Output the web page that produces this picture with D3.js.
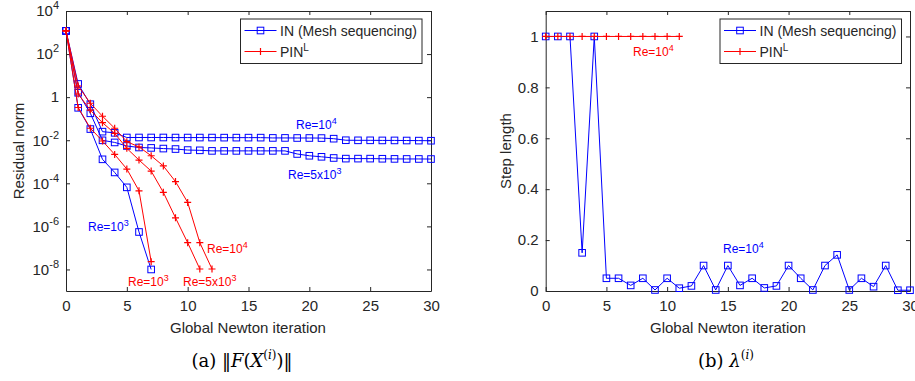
<!DOCTYPE html>
<html>
<head>
<meta charset="utf-8">
<script src="https://cdn.jsdelivr.net/npm/d3@7"></script>
<style>
  body { margin: 0; background: #fff; }
  text { font-family: "Liberation Sans", Arial, sans-serif; }
</style>
</head>
<body>
<div id="chart"></div>
<script>
// residual norm, IN (mesh sequencing)
var inRe1e3 = [1.2e3, 0.32, 0.033, 1.3e-3, 3.2e-4, 6.5e-5, 5.5e-7, 1.0e-8];
var inRe5e3 = [1.2e3, 1.6, 0.178, 0.0099, 0.0079, 0.0054, 0.0046, 0.0044, 0.0041, 0.0039, 0.0035, 0.0034,
  0.0032, 0.0032, 0.0032, 0.0032, 0.0032, 0.0032, 0.0032, 0.0023, 0.0019, 0.0017, 0.0015,
  0.0014, 0.0014, 0.0014, 0.00138, 0.00136, 0.00135, 0.00135, 0.00134];
var inRe1e4 = [1.2e3, 4.1, 0.47, 0.025, 0.022, 0.0134, 0.0134, 0.0134, 0.0134, 0.0133, 0.0133, 0.0133,
  0.0133, 0.0132, 0.0132, 0.0132, 0.0132, 0.0128, 0.0128, 0.0127, 0.0127, 0.0126, 0.0118,
  0.0100, 0.0099, 0.0099, 0.0098, 0.0098, 0.0097, 0.0096, 0.0095];
// residual norm, PIN^L
var pinRe1e3 = [1.2e3, 0.33, 0.036, 0.0092, 0.0022, 4.6e-4, 4.5e-5, 2.3e-8];
var pinRe5e3 = [1.2e3, 1.4, 0.25, 0.065, 0.021, 0.0042, 0.0012, 3.7e-4, 3.8e-5, 2.5e-6, 1.75e-7, 1.05e-8];
var pinRe1e4 = [1.2e3, 3.3, 0.52, 0.13, 0.036, 0.0086, 0.0049, 0.0019, 6.4e-4, 1.2e-4, 1.3e-5, 1.75e-7, 1.05e-8];
// step length, Re=10^4
var stepIN = [1, 1, 1, 0.15, 1, 0.05, 0.05, 0.022, 0.05, 0.004, 0.05, 0.011, 0.02, 0.1, 0.004, 0.1,
  0.022, 0.05, 0.012, 0.02, 0.1, 0.05, 0.004, 0.1, 0.142, 0.004, 0.05, 0.017, 0.1, 0.003, 0.003];
var stepPIN = [1, 1, 1, 1, 1, 1, 1, 1, 1, 1, 1, 1];

var xTicks = [0, 5, 10, 15, 20, 25, 30];
var logTicks = [1e-8, 1e-6, 1e-4, 1e-2, 1, 1e2, 1e4];
var stepTicks = [0, 0.2, 0.4, 0.6, 0.8, 1];
var legendNames = ["IN (Mesh sequencing)", "PIN"];

var blue = "#0000ff", red = "#ff0000", ink = "#262626";

var svg = d3.select("#chart").append("svg")
    .attr("width", 915)
    .attr("height", 381);

var xL = d3.scaleLinear().domain([0, 30]).range([66, 431]);
var yL = d3.scaleLog().domain([1e-9, 1e4]).range([291, 11]);
var xR = d3.scaleLinear().domain([0, 30]).range([545.7, 910]);
var yR = d3.scaleLinear().domain([0, 1.1]).range([291, 11]);

function frame(x, y, yTicks, yFormat) {
    var x0 = x.range()[0], x1 = x.range()[1], y0 = y.range()[0], y1 = y.range()[1];
    var g = svg.append("g");
    // bottom / top
    g.append("g").attr("transform", "translate(0," + y0 + ")")
        .call(d3.axisBottom(x).tickValues(xTicks).tickSizeInner(-4).tickSizeOuter(0).tickPadding(9));
    g.append("g").attr("transform", "translate(0," + y1 + ")")
        .call(d3.axisTop(x).tickValues(xTicks).tickSizeInner(-4).tickSizeOuter(0).tickFormat(""));
    g.append("g").attr("class", "yax").attr("transform", "translate(" + x0 + ",0)")
        .call(d3.axisLeft(y).tickValues(yTicks).tickSizeInner(-4).tickSizeOuter(0).tickPadding(7).tickFormat(yFormat));
    g.append("g").attr("transform", "translate(" + x1 + ",0)")
        .call(d3.axisRight(y).tickValues(yTicks).tickSizeInner(-4).tickSizeOuter(0).tickFormat(""));
    g.selectAll(".domain").attr("stroke", ink);
    g.selectAll(".tick line").attr("stroke", ink);
    g.selectAll(".tick text").attr("fill", ink).style("font-size", "15px")
        .style("font-family", "'Liberation Sans', Arial, sans-serif");
    return g;
}

var gL = frame(xL, yL, logTicks, function () { return ""; });
var gR = frame(xR, yR, stepTicks, function (d) { return d === 0 || d === 1 ? d : d.toFixed(1); });

// log tick labels with superscripts
gL.select(".yax").selectAll(".tick text").each(function (d) {
    var t = d3.select(this);
    var p = Math.round(Math.log10(d));
    if (p === 0) { t.text("1"); return; }
    t.text("10");
    t.append("tspan").attr("dy", -7).style("font-size", "11px").text(p);
});

// axis titles
svg.append("text").attr("x", 248).attr("y", 333).attr("text-anchor", "middle")
    .attr("fill", ink).style("font-size", "15px").text("Global Newton iteration");
svg.append("text").attr("x", 728).attr("y", 333).attr("text-anchor", "middle")
    .attr("fill", ink).style("font-size", "15px").text("Global Newton iteration");
svg.append("text").attr("transform", "translate(24,151) rotate(-90)").attr("text-anchor", "middle")
    .attr("fill", ink).style("font-size", "15px").text("Residual norm");
svg.append("text").attr("transform", "translate(511,151) rotate(-90)").attr("text-anchor", "middle")
    .attr("fill", ink).style("font-size", "15px").text("Step length");

function series(x, y, data, color, marker) {
    var line = d3.line().x(function (d, i) { return x(i); }).y(function (d) { return y(d); });
    var g = svg.append("g");
    g.append("path").datum(data).attr("d", line)
        .attr("fill", "none").attr("stroke", color).attr("stroke-width", 1);
    var pts = g.selectAll("g.m").data(data).enter().append("g")
        .attr("transform", function (d, i) { return "translate(" + x(i) + "," + y(d) + ")"; });
    drawMarker(pts, color, marker);
}

function drawMarker(sel, color, marker) {
    if (marker === "square") {
        sel.append("rect").attr("x", -3.3).attr("y", -3.3).attr("width", 6.6).attr("height", 6.6)
            .attr("fill", "none").attr("stroke", color).attr("stroke-width", 1);
    } else {
        sel.append("path").attr("d", "M-3.5,0H3.5M0,-3.5V3.5")
            .attr("stroke", color).attr("stroke-width", 1.2);
    }
}

[inRe1e3, inRe5e3, inRe1e4].forEach(function (s) { series(xL, yL, s, blue, "square"); });
[pinRe1e3, pinRe5e3, pinRe1e4].forEach(function (s) { series(xL, yL, s, red, "plus"); });
series(xR, yR, stepIN, blue, "square");
series(xR, yR, stepPIN, red, "plus");

// annotations
function reLabel(x, y, color, base, sup) {
    var t = svg.append("text").attr("x", x).attr("y", y).attr("fill", color).style("font-size", "12px").text(base);
    t.append("tspan").attr("dy", -5).style("font-size", "9px").text(sup);
}
reLabel(296, 129, blue, "Re=10", "4");
reLabel(288, 179, blue, "Re=5x10", "3");
reLabel(88, 231, blue, "Re=10", "3");
reLabel(207, 253, red, "Re=10", "4");
reLabel(128, 286, red, "Re=10", "3");
reLabel(183, 286, red, "Re=5x10", "3");
reLabel(633, 56, red, "Re=10", "4");
reLabel(723, 253, blue, "Re=10", "4");

// legends
function legend(x0, y0) {
    var g = svg.append("g").attr("transform", "translate(" + x0 + "," + y0 + ")");
    g.append("rect").attr("width", 181.5).attr("height", 44.5)
        .attr("fill", "#fff").attr("stroke", ink).attr("stroke-width", 1);
    [[blue, "square"], [red, "plus"]].forEach(function (c, i) {
        var row = g.append("g").attr("transform", "translate(0," + (11.5 + i * 21) + ")");
        row.append("line").attr("x1", 4).attr("x2", 36).attr("stroke", c[0]).attr("stroke-width", 1);
        drawMarker(row.append("g").attr("transform", "translate(20,0)"), c[0], c[1]);
        var t = row.append("text").attr("x", 39.5).attr("y", 5).attr("fill", ink)
            .style("font-size", "14px").text(legendNames[i]);
        if (i === 1) t.append("tspan").attr("dy", -6).style("font-size", "10px").text("L");
    });
}
legend(240.5, 19);
legend(720, 19);

// captions
function caption(cx, parts) {
    var t = svg.append("text").attr("x", cx).attr("y", 367).attr("text-anchor", "middle")
        .style("font-family", "'DejaVu Serif', 'Liberation Serif', serif").style("font-size", "18px").attr("fill", "#000");
    parts.forEach(function (p) {
        var s = t.append("tspan").text(p[0]);
        if (p[1]) s.style("font-style", "italic");
        if (p[2]) s.attr("dy", p[2]);
        s.style("font-size", p[3] || "18px");
    });
}
caption(242, [["(a) \u2016", false], ["F", true], ["(", false], ["X", true],
    ["(", false, -8, "12px"], ["i", true, 0, "12px"], [")", false, 0, "12px"], [")\u2016", false, 8]]);
caption(726, [["(b) ", false], ["\u03bb", true], ["(", false, -8, "12px"], ["i", true, 0, "12px"], [")", false, 0, "12px"]]);
</script>
</body>
</html>
